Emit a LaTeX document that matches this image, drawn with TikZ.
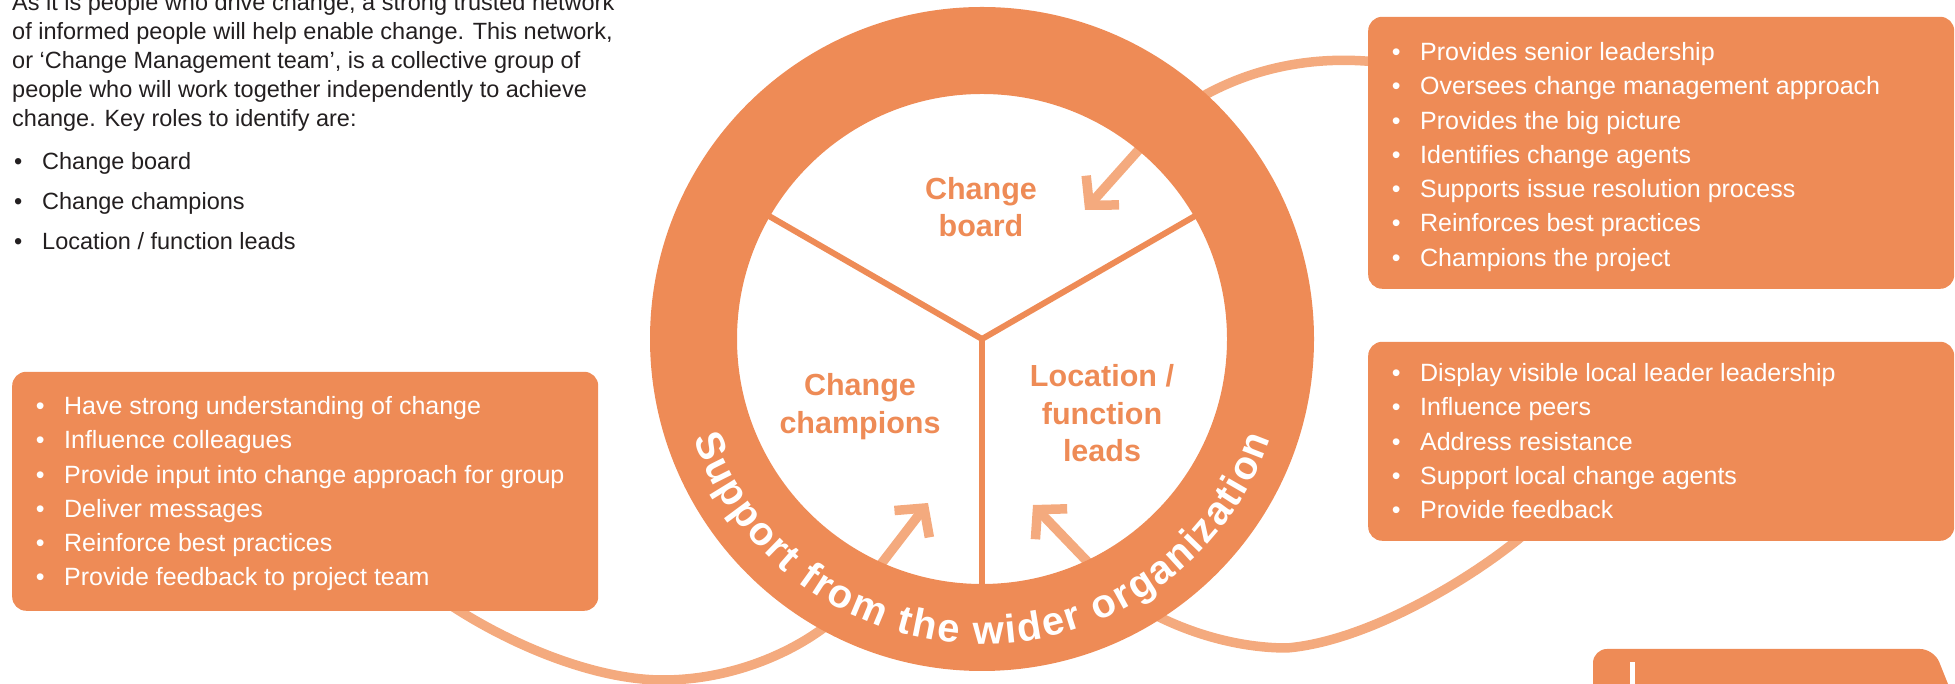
\documentclass[tikz,border=0pt]{standalone}
\usepackage{fontspec}
\setmainfont{Liberation Sans}
\usetikzlibrary{arrows.meta,decorations.text,calc}
\definecolor{ringc}{RGB}{238,139,86}
\definecolor{connc}{RGB}{244,170,126}
\definecolor{txtc}{RGB}{35,31,32}
\newcommand{\ringtextfmt}{\color{white}\bfseries\fontsize{40}{40}\selectfont}
\begin{document}
\begin{tikzpicture}[x=1pt,y=1pt,
  box/.style={fill=ringc, rounded corners=14pt, inner sep=0pt},
  boxtext/.style={text=white, inner sep=0pt, font=\fontsize{25}{34.3}\selectfont},
  lbl/.style={text=ringc, inner sep=0pt, font=\bfseries\fontsize{30.5}{37.5}\selectfont},
  conn/.style={draw=connc, line width=9.5pt, -{Straight Barb[length=20pt,width=44pt]}},
  yline/.style={draw=ringc, line width=6pt},
  para/.style={text=txtc, inner sep=0pt, font=\fontsize{23.5}{29}\selectfont},
  paralist/.style={text=txtc, inner sep=0pt, font=\fontsize{23.5}{40}\selectfont}]
\useasboundingbox (0,0) rectangle (1955,684);
\clip (0,0) rectangle (1955,684);

% centre of the ring
\coordinate (C) at (982,345);

% connector points
\coordinate (c1a) at (1385,621);
\coordinate (c1b) at (1160,558);
\coordinate (t1) at (1085,474);
\coordinate (c2a) at (440,86);
\coordinate (c2m) at (663,4);
\coordinate (c2b) at (855,86);
\coordinate (t2) at (928,181);
\coordinate (c3a) at (1540,164);
\coordinate (c3m) at (1287,36);
\coordinate (c3b) at (1105,104);
\coordinate (t3) at (1033,179);

% connectors (behind boxes and ring)
\draw[conn] (c1a) .. controls (1300,632) and (1220,609) .. (c1b) -- (t1);
\draw[conn] (c2a) .. controls (500,44) and (590,4) .. (c2m)
            .. controls (750,4) and (826,48) .. (c2b) -- (t2);
\draw[conn] (c3a) .. controls (1500,124) and (1380,44) .. (c3m)
            .. controls (1210,36) and (1135,73) .. (c3b) -- (t3);

% boxes
\node[box, anchor=south west, minimum width=586pt, minimum height=239pt] (lbox) at (12,73) {};
\node[box, anchor=south west, minimum width=586pt, minimum height=272pt] (trbox) at (1368,395) {};
\node[box, anchor=south west, minimum width=586pt, minimum height=199pt] (mrbox) at (1368,143) {};
\fill[ringc, rounded corners=14pt] (1593,-20) -- (1593,35) -- (1934,35) -- (1956,-20) -- cycle;
\fill[white] (1630,0) rectangle (1635,22);

% box texts
\node[boxtext, anchor=base west] (ltxt) at (35.6,269.5) {\begin{tabular}[t]{@{}l@{\hspace{19.6pt}}l@{}}
\textbullet & Have strong understanding of change\\
\textbullet & Influence colleagues\\
\textbullet & Provide input into change approach for group\\
\textbullet & Deliver messages\\
\textbullet & Reinforce best practices\\
\textbullet & Provide feedback to project team
\end{tabular}};
\node[boxtext, anchor=base west] (trtxt) at (1391.6,623.5) {\begin{tabular}[t]{@{}l@{\hspace{19.6pt}}l@{}}
\textbullet & Provides senior leadership\\
\textbullet & Oversees change management approach\\
\textbullet & Provides the big picture\\
\textbullet & Identifies change agents\\
\textbullet & Supports issue resolution process\\
\textbullet & Reinforces best practices\\
\textbullet & Champions the project
\end{tabular}};
\node[boxtext, anchor=base west] (mrtxt) at (1391.6,302.5) {\begin{tabular}[t]{@{}l@{\hspace{19.6pt}}l@{}}
\textbullet & Display visible local leader leadership\\
\textbullet & Influence peers\\
\textbullet & Address resistance\\
\textbullet & Support local change agents\\
\textbullet & Provide feedback
\end{tabular}};

% ring and Y
\fill[ringc, even odd rule] (C) circle[radius=332pt] (C) circle[radius=245pt];
\draw[yline, line join=miter] ($(C)+(150:250pt)$) -- (C) -- ($(C)+(30:250pt)$);
\draw[yline] (C) -- ($(C)+(270:250pt)$);

% labels
\node[lbl, anchor=base] (board) at (981,484.5) {\begin{tabular}[t]{@{}c@{}}Change\\board\end{tabular}};
\node[lbl, anchor=base] (champ) at (860,288) {\begin{tabular}[t]{@{}c@{}}Change\\champions\end{tabular}};
\node[lbl, anchor=base] (loc) at (1102,297) {\begin{tabular}[t]{@{}c@{}}Location /\\function\\leads\end{tabular}};

% ring text
\path[decorate, decoration={text along path,
   text={|\ringtextfmt|Support from the wider organization},
   text align={fit to path}}]
   ($(C)+(199:305pt)$) arc[start angle=199, end angle=341, radius=305pt];

% intro paragraph
\node[para, anchor=base west] (intro) at (12,673) {\begin{tabular}[t]{@{}l@{}}
As it is people who drive change, a strong trusted network\\
of informed people will help enable change. This network,\\
or `Change Management team', is a collective group of\\
people who will work together independently to achieve\\
change. Key roles to identify are:
\end{tabular}};
\node[paralist, anchor=base west] (roles) at (13.9,514) {\begin{tabular}[t]{@{}l@{\hspace{19.9pt}}l@{}}
\textbullet & Change board\\
\textbullet & Change champions\\
\textbullet & Location / function leads
\end{tabular}};
\end{tikzpicture}
\end{document}
